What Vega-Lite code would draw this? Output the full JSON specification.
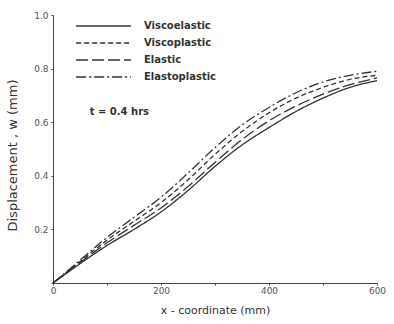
{
  "$schema": "https://vega.github.io/schema/vega-lite/v6.json",
  "width": 324,
  "height": 268,
  "autosize": {"type": "none"},
  "padding": {"left": 53, "top": 15, "right": 17, "bottom": 41},
  "background": "white",
  "config": {
    "view": {"stroke": null},
    "font": "DejaVu Sans",
    "axis": {"domainColor": "#444", "tickColor": "#444", "labelColor": "#555", "titleColor": "#333", "grid": false, "labelFont": "DejaVu Sans", "titleFont": "DejaVu Sans", "labelFontSize": 9, "titleFontSize": 11, "titleFontWeight": "normal"}
  },
  "data": {
    "values": [
      {"x": 0, "w": 0, "model": "Viscoelastic"},
      {"x": 50, "w": 0.072, "model": "Viscoelastic"},
      {"x": 100, "w": 0.14, "model": "Viscoelastic"},
      {"x": 150, "w": 0.2, "model": "Viscoelastic"},
      {"x": 200, "w": 0.265, "model": "Viscoelastic"},
      {"x": 250, "w": 0.345, "model": "Viscoelastic"},
      {"x": 300, "w": 0.435, "model": "Viscoelastic"},
      {"x": 350, "w": 0.515, "model": "Viscoelastic"},
      {"x": 400, "w": 0.58, "model": "Viscoelastic"},
      {"x": 450, "w": 0.64, "model": "Viscoelastic"},
      {"x": 500, "w": 0.69, "model": "Viscoelastic"},
      {"x": 550, "w": 0.73, "model": "Viscoelastic"},
      {"x": 600, "w": 0.755, "model": "Viscoelastic"},
      {"x": 0, "w": 0, "model": "Viscoplastic"},
      {"x": 50, "w": 0.08, "model": "Viscoplastic"},
      {"x": 100, "w": 0.16, "model": "Viscoplastic"},
      {"x": 150, "w": 0.23, "model": "Viscoplastic"},
      {"x": 200, "w": 0.3, "model": "Viscoplastic"},
      {"x": 250, "w": 0.385, "model": "Viscoplastic"},
      {"x": 300, "w": 0.48, "model": "Viscoplastic"},
      {"x": 350, "w": 0.565, "model": "Viscoplastic"},
      {"x": 400, "w": 0.635, "model": "Viscoplastic"},
      {"x": 450, "w": 0.69, "model": "Viscoplastic"},
      {"x": 500, "w": 0.73, "model": "Viscoplastic"},
      {"x": 550, "w": 0.76, "model": "Viscoplastic"},
      {"x": 600, "w": 0.775, "model": "Viscoplastic"},
      {"x": 0, "w": 0, "model": "Elastic"},
      {"x": 50, "w": 0.076, "model": "Elastic"},
      {"x": 100, "w": 0.15, "model": "Elastic"},
      {"x": 150, "w": 0.215, "model": "Elastic"},
      {"x": 200, "w": 0.28, "model": "Elastic"},
      {"x": 250, "w": 0.36, "model": "Elastic"},
      {"x": 300, "w": 0.45, "model": "Elastic"},
      {"x": 350, "w": 0.535, "model": "Elastic"},
      {"x": 400, "w": 0.605, "model": "Elastic"},
      {"x": 450, "w": 0.66, "model": "Elastic"},
      {"x": 500, "w": 0.705, "model": "Elastic"},
      {"x": 550, "w": 0.74, "model": "Elastic"},
      {"x": 600, "w": 0.765, "model": "Elastic"},
      {"x": 0, "w": 0, "model": "Elastoplastic"},
      {"x": 50, "w": 0.085, "model": "Elastoplastic"},
      {"x": 100, "w": 0.17, "model": "Elastoplastic"},
      {"x": 150, "w": 0.245, "model": "Elastoplastic"},
      {"x": 200, "w": 0.32, "model": "Elastoplastic"},
      {"x": 250, "w": 0.41, "model": "Elastoplastic"},
      {"x": 300, "w": 0.505, "model": "Elastoplastic"},
      {"x": 350, "w": 0.59, "model": "Elastoplastic"},
      {"x": 400, "w": 0.655, "model": "Elastoplastic"},
      {"x": 450, "w": 0.71, "model": "Elastoplastic"},
      {"x": 500, "w": 0.75, "model": "Elastoplastic"},
      {"x": 550, "w": 0.775, "model": "Elastoplastic"},
      {"x": 600, "w": 0.79, "model": "Elastoplastic"}
    ]
  },
  "layer": [
    {
      "mark": {"type": "line", "interpolate": "monotone", "color": "#333", "strokeWidth": 1.3},
      "encoding": {
        "x": {"field": "x", "type": "quantitative", "scale": {"domain": [0, 600], "nice": false},
          "axis": {"title": "x - coordinate  (mm)", "values": [0, 100, 200, 300, 400, 500, 600], "labelExpr": "datum.value % 200 == 0 ? datum.label : ''", "labelFlush": false, "tickSize": 2, "labelPadding": 1, "titlePadding": 9, "format": "d"}},
        "y": {"field": "w", "type": "quantitative", "scale": {"domain": [0, 1], "nice": false},
          "axis": {"title": "Displacement , w (mm)", "titleFontSize": 13, "titleY": 140, "values": [0, 0.2, 0.4, 0.6, 0.8, 1.0], "labelExpr": "datum.value == 0 ? '' : format(datum.value, '.1f')", "tickSize": 2, "labelPadding": 3, "titlePadding": 14}},
        "strokeDash": {"field": "model", "type": "nominal",
          "scale": {"domain": ["Viscoelastic", "Viscoplastic", "Elastic", "Elastoplastic"], "range": [[1, 0], [5, 3], [12, 4], [10, 3, 2, 3]]},
          "legend": {"title": null, "orient": "none", "legendX": 22, "legendY": 5, "symbolType": "stroke", "symbolSize": 3000, "clipHeight": 12, "symbolStrokeColor": "#333", "symbolStrokeWidth": 1.3, "labelFont": "DejaVu Sans", "labelFontSize": 10, "labelFontWeight": "bold", "labelColor": "#333", "rowPadding": 5, "labelOffset": 12}}
      }
    },
    {
      "data": {"values": [{}]},
      "mark": {"type": "text", "text": "t = 0.4 hrs", "font": "DejaVu Sans", "fontSize": 10, "fontWeight": "bold", "color": "#333", "align": "left", "baseline": "middle"},
      "encoding": {"x": {"datum": 68}, "y": {"datum": 0.638}}
    }
  ]
}
